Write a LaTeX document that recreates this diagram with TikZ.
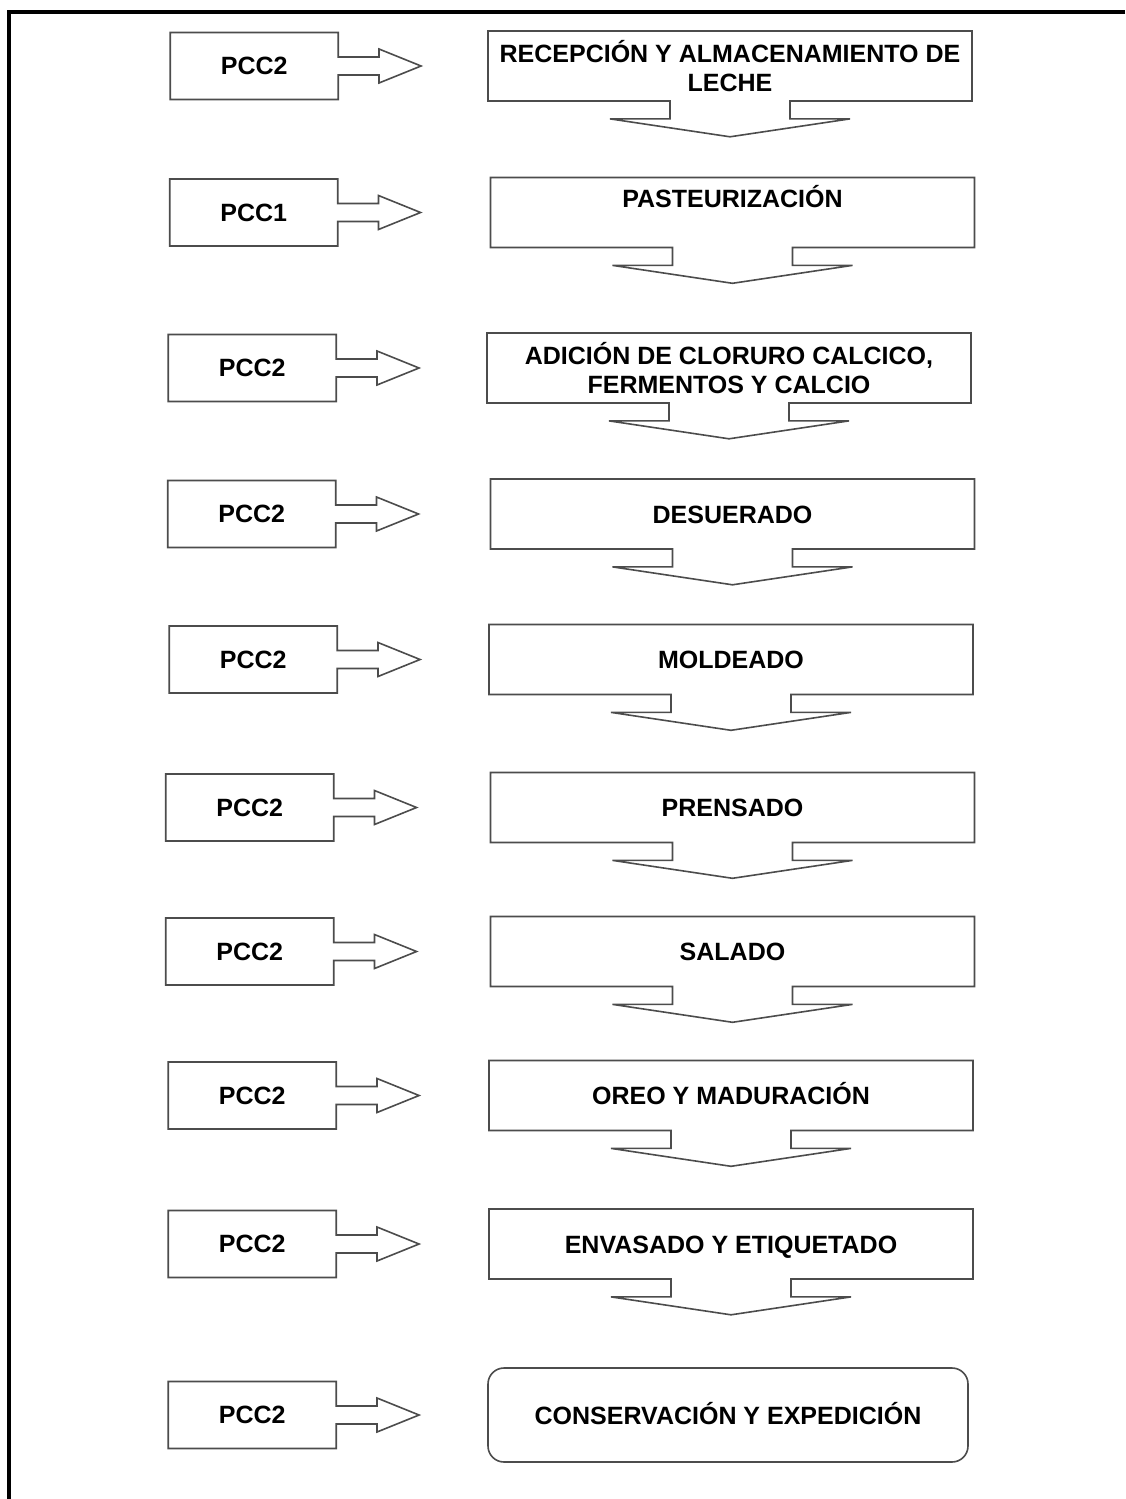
\documentclass[tikz,border=0pt]{standalone}
\usepackage{fontspec}
\setmainfont{Liberation Sans}
\usetikzlibrary{positioning,shapes.arrows}
\tikzset{
  paso/.style={shape=arrow box,draw=black!70,line width=0.8pt,fill=white,inner sep=0pt,
               minimum width=242pt,minimum height=35pt,align=center,
               arrow box north arrow=none,arrow box east arrow=none,arrow box west arrow=none,
               arrow box south arrow=17.5pt,arrow box shaft width=60pt,
               arrow box head extend=30pt,arrow box tip angle=163},
  plano/.style={text height=9pt,text depth=0pt},
  fin/.style={rectangle,draw=black!70,line width=0.8pt,rounded corners=8pt,fill=white,
              minimum width=240pt,minimum height=47pt,align=center},
  pcc/.style={shape=arrow box,draw=black!70,line width=0.8pt,fill=white,inner sep=0pt,
              minimum width=84pt,minimum height=33.5pt,
              arrow box north arrow=none,arrow box south arrow=none,arrow box west arrow=none,
              arrow box east arrow=41pt,arrow box shaft width=9pt,
              arrow box head extend=4pt,arrow box tip angle=44},
  marco/.style={line width=2pt},
}

\begin{document}
\begin{tikzpicture}[x=0.5pt,y=-0.5pt,font=\bfseries\fontsize{12.5}{14.25}\selectfont]
  \useasboundingbox (0,0) rectangle (1125,1499);
  \draw[marco] (1125,12) -- (9,12) -- (9,1499);
  % etapas del proceso
  \node[paso] (m1) at (730,66) {RECEPCIÓN Y ALMACENAMIENTO DE\\LECHE};
  \node[paso,text height=15pt,text depth=20pt] (m2) at (732.5,212.5) {PASTEURIZACIÓN};
  \node[paso] (m3) at (729,368) {ADICIÓN DE CLORURO CALCICO,\\FERMENTOS Y CALCIO};
  \node[paso,plano] (m4) at (732.5,514) {DESUERADO};
  \node[paso,plano] (m5) at (731,659.5) {MOLDEADO};
  \node[paso,plano] (m6) at (732.5,807.5) {PRENSADO};
  \node[paso,plano] (m7) at (732.5,951.5) {SALADO};
  \node[paso,plano] (m8) at (731,1095.5) {OREO Y MADURACIÓN};
  \node[paso,plano] (m9) at (731,1244) {ENVASADO Y ETIQUETADO};
  \node[fin,plano] (m10) at (728,1415) {CONSERVACIÓN Y EXPEDICIÓN};
  % puntos de control
  \node[pcc,left=32pt of m1] (p1) {PCC2};
  \node[pcc,left=33.5pt of m2] (p2) {PCC1};
  \node[pcc,left=32.5pt of m3] (p3) {PCC2};
  \node[pcc,left=34.5pt of m4] (p4) {PCC2};
  \node[pcc,left=33pt of m5] (p5) {PCC2};
  \node[pcc,left=35.5pt of m6] (p6) {PCC2};
  \node[pcc,left=35.5pt of m7] (p7) {PCC2};
  \node[pcc,left=33.5pt of m8] (p8) {PCC2};
  \node[pcc,left=33.5pt of m9] (p9) {PCC2};
  \node[pcc,left=33pt of m10] (p10) {PCC2};
\end{tikzpicture}
\end{document}
